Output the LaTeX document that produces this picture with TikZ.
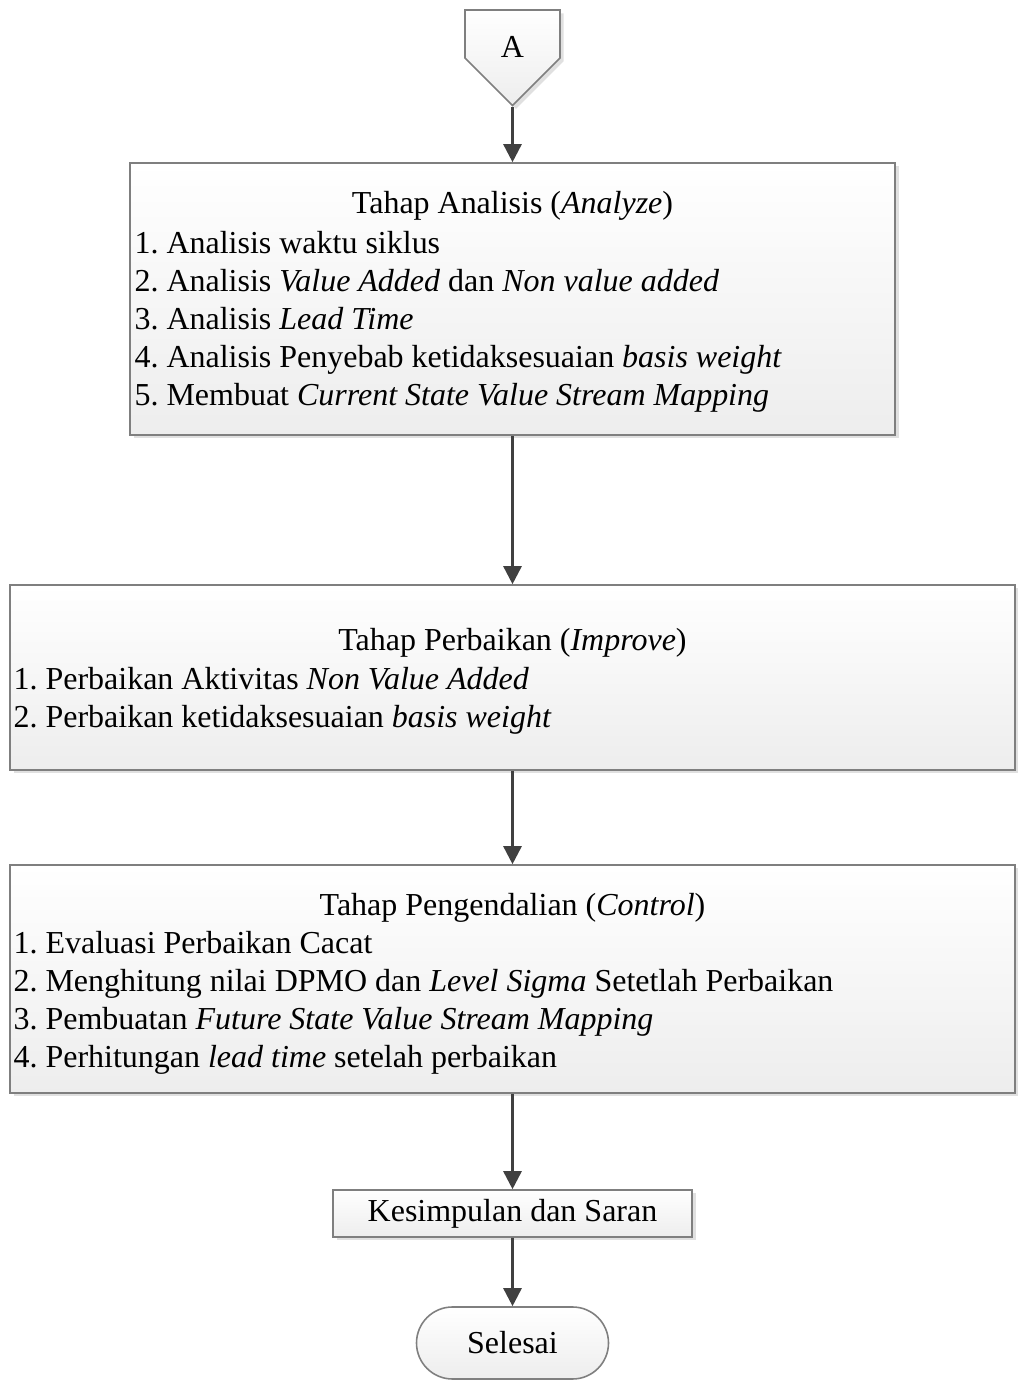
\documentclass[tikz,border=0pt]{standalone}
\usepackage{fontspec}
\setmainfont{Liberation Serif}
\usepackage{tikz}
\usetikzlibrary{shapes.symbols,shapes.misc,arrows.meta,positioning,calc,shadows}

\definecolor{linegray}{HTML}{404040}
\definecolor{bordergray}{HTML}{7F7F7F}
\frenchspacing

\begin{document}
\begin{tikzpicture}[
        font=\fontsize{18.2pt}{21.6pt}\selectfont,
        % Block styles
        stepbox/.style={
            rectangle,
            draw=bordergray,
            line width=0.9pt,
            top color=white,
            bottom color=black!7,
            drop shadow={shadow xshift=0.07cm, shadow yshift=-0.07cm, fill=black!12, opacity=1},
            inner sep=0pt
        },
        listtext/.style={
            align=left,
            inner sep=0pt,
            anchor=north west
        },
        offpage/.style={
            signal,
            signal to=south,
            signal pointer angle=90,
            draw=bordergray,
            line width=0.9pt,
            top color=white,
            bottom color=black!7,
            drop shadow={shadow xshift=0.07cm, shadow yshift=-0.07cm, fill=black!12, opacity=1},
            minimum width=1.9cm,
            minimum height=0.96cm,
            inner sep=0pt
        },
        terminal/.style={
            rounded rectangle,
            draw=bordergray,
            line width=0.9pt,
            top color=white,
            bottom color=black!7,
            minimum width=3.84cm,
            minimum height=1.44cm,
            inner sep=0pt
        },
        arrow/.style={-{Triangle[width=0.36cm,length=0.36cm]}, draw=linegray, fill=linegray, line width=1.5pt}
    ]
    \useasboundingbox (0,0) rectangle (20.34,27.6);

    % Start connector
    \node[offpage] (conA) at (10.25, 26.92) {};
    \node (lblA) at (10.25, 26.66) {A};

    % Analyze
    \node[stepbox, minimum width=15.3cm, minimum height=5.44cm] (analyze) at (10.25, 21.62) {};
    \node (analyzeT) at ([yshift=-0.88cm]analyze.north) {Tahap Analisis (\textit{Analyze})};
    \node[listtext] (analyzeL) at ([xshift=0.1cm, yshift=-1.38cm]analyze.north west) {1. Analisis waktu siklus\\
        2. Analisis \textit{Value Added} dan \textit{Non value added}\\
        3. Analisis \textit{Lead Time}\\
        4. Analisis Penyebab ketidaksesuaian \textit{basis weight}\\
        5. Membuat \textit{Current State Value Stream Mapping}};

    % Improve
    \node[stepbox, minimum width=20.1cm, minimum height=3.7cm] (improve) at (10.25, 14.05) {};
    \node (improveT) at ([yshift=-1.18cm]improve.north) {Tahap Perbaikan (\textit{Improve})};
    \node[listtext] (improveL) at ([xshift=0.08cm, yshift=-1.66cm]improve.north west) {1. Perbaikan Aktivitas \textit{Non Value Added}\\
        2. Perbaikan ketidaksesuaian \textit{basis weight}};

    % Control
    \node[stepbox, minimum width=20.1cm, minimum height=4.56cm] (control) at (10.25, 8.02) {};
    \node (controlT) at ([yshift=-0.88cm]control.north) {Tahap Pengendalian (\textit{Control})};
    \node[listtext] (controlL) at ([xshift=0.08cm, yshift=-1.34cm]control.north west) {1. Evaluasi Perbaikan Cacat\\
        2. Menghitung nilai DPMO dan \textit{Level Sigma} Setetlah Perbaikan\\
        3. Pembuatan \textit{Future State Value Stream Mapping}\\
        4. Perhitungan \textit{lead time} setelah perbaikan};

    % Conclusion and end
    \node[stepbox, minimum width=7.18cm, minimum height=0.94cm] (saran) at (10.25, 3.33) {Kesimpulan dan Saran};
    \node[terminal] (selesai) at (10.25, 0.74) {Selesai};

    % Connections
    \draw[arrow] (conA.south) -- (analyze);
    \draw[arrow] (analyze) -- (improve);
    \draw[arrow] (improve) -- (control);
    \draw[arrow] (control) -- (saran);
    \draw[arrow] (saran) -- (selesai);

\end{tikzpicture}
\end{document}
